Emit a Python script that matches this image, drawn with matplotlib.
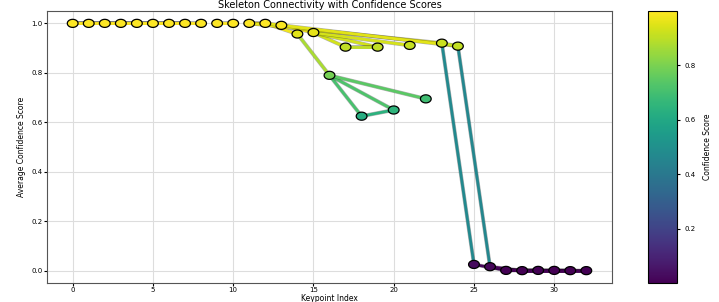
import numpy as np
import matplotlib
matplotlib.use("Agg")
import matplotlib.pyplot as plt
from matplotlib.colors import Normalize
from matplotlib.path import Path
import matplotlib.patheffects as pe

keypoints = list(range(33))
confidence = [1.0, 1.0, 1.0, 1.0, 1.0, 1.0, 1.0, 1.0, 1.0, 1.0,
              1.0, 1.0, 1.0, 0.992, 0.957, 0.963, 0.79, 0.904, 0.625, 0.904,
              0.65, 0.911, 0.695, 0.92, 0.908, 0.026, 0.017, 0.002, 0.001, 0.002,
              0.002, 0.001, 0.001]
connections = [(0, 1), (1, 2), (2, 3), (3, 7), (0, 4), (4, 5), (5, 6), (6, 8),
               (9, 10), (11, 12), (11, 13), (13, 15), (15, 17), (15, 19), (15, 21),
               (17, 19), (12, 14), (14, 16), (16, 18), (16, 20), (16, 22), (18, 20),
               (11, 23), (12, 24), (23, 24), (23, 25), (24, 26), (25, 27), (26, 28),
               (27, 29), (28, 30), (29, 31), (30, 32), (27, 31), (28, 32)]

fig = plt.figure(figsize=(7.19, 3.02), dpi=100)
ax = fig.add_axes([47/719, 1-283/302, (612-47)/719, (283-11)/302])
cax = fig.add_axes([648/719, 1-283/302, (677-648)/719, (283-11)/302])

cmap = plt.get_cmap("viridis")
norm = Normalize(vmin=min(confidence), vmax=max(confidence))

for a, b in connections:
    avg = (confidence[a] + confidence[b]) / 2
    ax.plot([keypoints[a], keypoints[b]], [confidence[a], confidence[b]],
            color=cmap(norm(avg)), lw=2.0, zorder=2,
            path_effects=[pe.Stroke(linewidth=2.8, foreground="black", alpha=0.3),
                          pe.Normal()])

# slightly flattened circle marker
t = np.linspace(0, 2 * np.pi, 41)
ell = Path(np.column_stack([np.cos(t), 0.75 * np.sin(t)]), closed=True)

sc = ax.scatter(keypoints, confidence, c=confidence, cmap=cmap, norm=norm,
                s=60, marker=ell, edgecolors="black", linewidths=0.9, zorder=3)

ax.grid(True, color="#dddddd", lw=0.8)
ax.set_axisbelow(True)
ax.tick_params(labelsize=5, length=2, pad=1)
ax.set_xlabel("Keypoint Index", fontsize=5.5)
ax.xaxis.set_label_coords(0.5, -0.039)
ax.set_ylabel("Average Confidence Score", fontsize=5.5, labelpad=4)
ax.set_title("Skeleton Connectivity with Confidence Scores", fontsize=7, pad=2)
for s in ax.spines.values():
    s.set_color("#555555")

cb = fig.colorbar(sc, cax=cax)
cb.set_ticks([0.2, 0.4, 0.6, 0.8])
cb.ax.tick_params(labelsize=5, length=2)
cb.set_label("Confidence Score", fontsize=5.5, labelpad=5)

fig.savefig("out.png", dpi=100)
